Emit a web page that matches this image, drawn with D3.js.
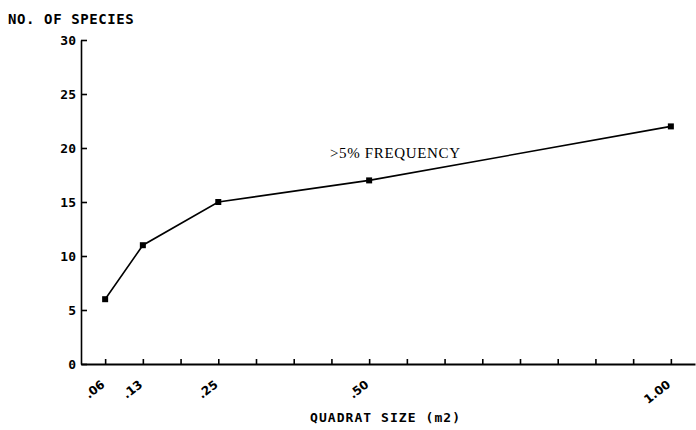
<!DOCTYPE html>
<html>
<head>
<meta charset="utf-8">
<script src="https://cdn.jsdelivr.net/npm/d3@7"></script>
<style>
  html, body { margin: 0; padding: 0; background: #fff; }
  svg { display: block; }
  .mono { font-family: "DejaVu Sans Mono", monospace; font-weight: bold; }
</style>
</head>
<body>
<svg id="chart" width="696" height="430"></svg>
<script>
// ---- data ----
const quadratSizes = [0.0625, 0.125, 0.25, 0.5, 1.0];
const speciesCounts = [6, 11, 15, 17, 22];
const xTickValues = d3.range(1, 17).map(k => k / 16);
const xTickLabels = {0.0625: ".06", 0.125: ".13", 0.25: ".25", 0.5: ".50", 1: "1.00"};
const yTickValues = [0, 5, 10, 15, 20, 25, 30];
const seriesLabel = ">5% FREQUENCY";
const yTitle = "NO. OF SPECIES";
const xTitle = "QUADRAT SIZE (m2)";

const svg = d3.select("#chart");
const ink = "#000";

const x = d3.scaleLinear().domain([0.0225, 1.04]).range([81, 695]);
const y = d3.scaleLinear().domain([0, 30]).range([364, 40]);

// y axis
const yAxis = d3.axisLeft(y).tickValues(yTickValues).tickSizeInner(-6).tickSizeOuter(0).tickPadding(5);
const gy = svg.append("g").attr("transform", `translate(${x.range()[0]},0)`).call(yAxis);
gy.select(".domain").attr("stroke", ink).attr("stroke-width", 1.6);
gy.selectAll(".tick line").attr("stroke", ink).attr("stroke-width", 1.6);
gy.selectAll(".tick text").attr("class", "mono").attr("font-size", 13).attr("fill", ink).attr("dy", "0.36em");

// x axis
const xAxis = d3.axisBottom(x).tickValues(xTickValues).tickSizeInner(-5).tickSizeOuter(0)
  .tickFormat(d => xTickLabels[d] || "");
const gx = svg.append("g").attr("transform", `translate(0,${y(0)})`).call(xAxis);
gx.select(".domain").attr("stroke", ink).attr("stroke-width", 1.8);
gx.selectAll(".tick line").attr("stroke", ink).attr("stroke-width", 1.6);
gx.selectAll(".tick text")
  .attr("font-family", "'DejaVu Sans', sans-serif").attr("font-weight", "bold")
  .attr("font-size", 12).attr("fill", ink)
  .attr("x", 0).attr("y", 0).attr("dy", 0)
  .attr("text-anchor", "end")
  .attr("transform", "translate(0,22) rotate(-38)");

// line
const line = d3.line().x((d, i) => x(quadratSizes[i])).y(d => y(d));
svg.append("path").datum(speciesCounts)
  .attr("d", line).attr("fill", "none").attr("stroke", ink).attr("stroke-width", 1.6);

svg.selectAll("rect.pt").data(speciesCounts).enter().append("rect")
  .attr("class", "pt")
  .attr("x", (d, i) => x(quadratSizes[i]) - 3)
  .attr("y", d => y(d) - 3)
  .attr("width", 6).attr("height", 6).attr("fill", ink);

// labels
svg.append("text").attr("class", "mono").attr("x", 8).attr("y", 24)
  .attr("font-size", 14).attr("letter-spacing", 0.6).attr("fill", ink).text(yTitle);

svg.append("text").attr("class", "mono").attr("x", 310).attr("y", 422)
  .attr("font-size", 13).attr("textLength", 150).attr("lengthAdjust", "spacing")
  .attr("fill", ink).text(xTitle);

svg.append("text").attr("x", 330).attr("y", 158)
  .attr("font-family", "'Liberation Serif', serif").attr("font-size", 15)
  .attr("textLength", 130).attr("lengthAdjust", "spacing")
  .attr("fill", ink).text(seriesLabel);
</script>
</body>
</html>
